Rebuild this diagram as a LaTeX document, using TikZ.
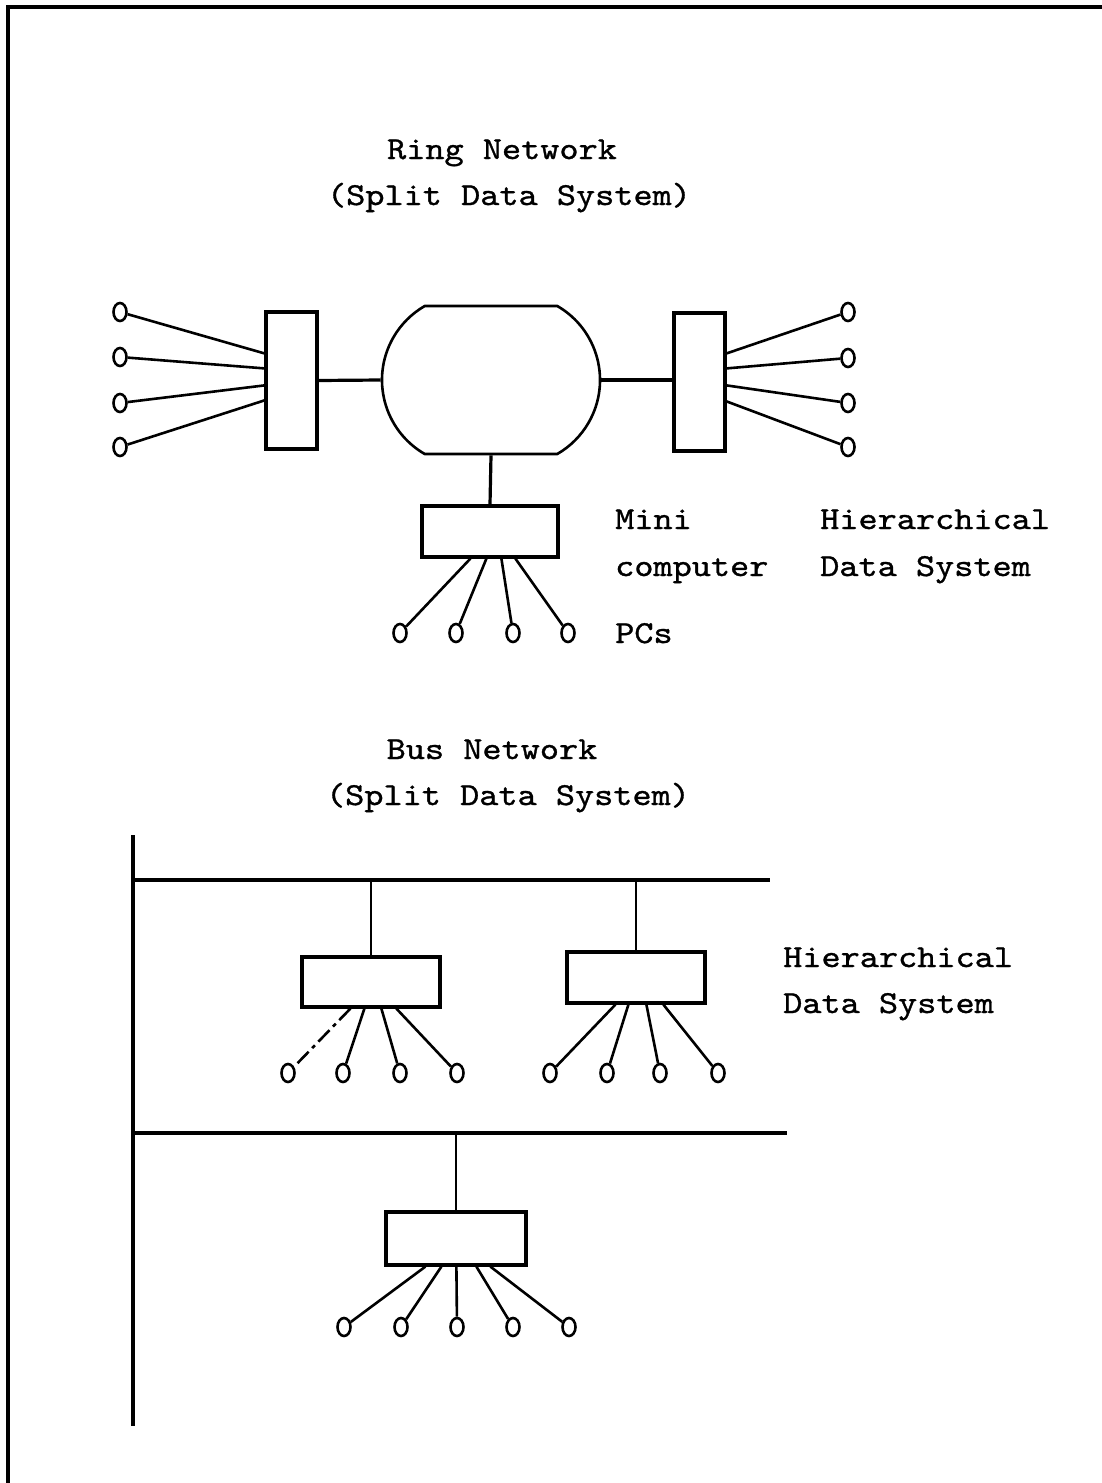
\documentclass[tikz,border=0pt]{standalone}
\usepackage{fontspec}
\newfontfamily\typefont{lmmono10-regular.otf}[FakeStretch=1.14, FakeBold=1.0]
\usetikzlibrary{calc,positioning,shapes.geometric,shapes.misc}

\begin{document}
\begin{tikzpicture}[
  x=1pt, y=-1pt,
  font=\typefont\fontsize{32}{38}\selectfont,
  box/.style={rectangle, draw, line width=3.2pt, inner sep=0pt},
  pc/.style={ellipse, draw, line width=2.6pt, inner sep=0pt, minimum width=13pt, minimum height=18pt},
  link/.style={line width=3.2pt},
  fan/.style={line width=2.6pt},
  lbl/.style={inner sep=0pt, anchor=base west},
  heading/.style={inner sep=0pt, anchor=base}
]
\useasboundingbox (0,0) rectangle (1102,1483);
\draw[link] (8,1483) -- (8,7) -- (1102,7);

% ring network
\node[heading] (ringT) at (502,159) {Ring Network};
\node[heading] (ringS) at (509,205) {(Split Data System)};

\node[rounded rectangle, rounded rectangle arc length=120, draw, line width=2.6pt,
  minimum width=218pt, minimum height=148pt, inner sep=0pt] (ring) at (491,380) {};
\node[box, minimum width=51pt, minimum height=137pt] (lbox) at (291.5,380.5) {};
\node[box, minimum width=51pt, minimum height=138pt] (rbox) at (699.5,382) {};
\node[box, minimum width=136pt, minimum height=51pt] (mini) at (490,531.5) {};

\draw[link] (lbox.east) -- (ring.west);
\draw[link] (ring.east) -- (rbox.west |- ring.east);
\draw[link] (ring.south) -- (mini.north);

\foreach \cy/\dy [count=\i] in {312/43,357/58,403/75,447/90}{
  \node[pc] (l\i) at (120,\cy) {};
  \draw[fan] (l\i) -- ($(lbox.north west)+(0,\dy)$);
}
\foreach \cy/\dy [count=\i] in {312/42,358/57,403/74,447/90}{
  \node[pc] (r\i) at (848,\cy) {};
  \draw[fan] (r\i) -- ($(rbox.north east)+(0,\dy)$);
}
\foreach \cx/\dx [count=\i] in {400/50,456/66,513/81,568/95}{
  \node[pc] (m\i) at (\cx,633) {};
  \draw[fan] (m\i) -- ($(mini.south west)+(\dx,0)$);
}

\node[lbl] (miniA) at (615,529) {Mini};
\node[lbl] (miniB) at (615,576) {computer};
\node[lbl] (pcs) at (615,643) {PCs};
\node[lbl] (hierA) at (820,529) {Hierarchical};
\node[lbl] (hierB) at (820,576) {Data System};

% bus network
\node[heading] (busT) at (492,759) {Bus Network};
\node[heading] (busS) at (508,805) {(Split Data System)};

\coordinate (spineTop) at (133,835);
\coordinate (spineBot) at (133,1426);
\coordinate (busA) at (133,880);
\coordinate (busAend) at (770,880);
\coordinate (busB) at (133,1133);
\coordinate (busBend) at (787,1133);
\draw[link] (spineTop) -- (spineBot);
\draw[link] (busA) -- (busAend);
\draw[link] (busB) -- (busBend);

\node[box, minimum width=138pt, minimum height=50pt] (b1) at (371,982) {};
\node[box, minimum width=138pt, minimum height=51pt] (b2) at (636,977.5) {};
\node[box, minimum width=140pt, minimum height=53pt] (b3) at (456,1238.5) {};

\draw[fan] (b1.north |- busA) -- (b1.north);
\draw[fan] (b2.north |- busA) -- (b2.north);
\draw[fan] (b3.north |- busB) -- (b3.north);

\foreach \cx/\dx [count=\i] in {288/50,343/64,400/81,457/96}{
  \node[pc] (p\i) at (\cx,1073) {};
}
\draw[fan, dash pattern=on 16pt off 5pt on 4pt off 5pt] ($(b1.south west)+(50,0)$) -- (p1);
\foreach \dx [count=\i from 2] in {64,81,96}{
  \draw[fan] (p\i) -- ($(b1.south west)+(\dx,0)$);
}
\foreach \cx/\dx [count=\i] in {550/50,607/63,660/81,718/98}{
  \node[pc] (q\i) at (\cx,1073) {};
  \draw[fan] (q\i) -- ($(b2.south west)+(\dx,0)$);
}
\foreach \cx/\dx [count=\i] in {344/41,401/57,457/72,513/92,569/106}{
  \node[pc] (s\i) at (\cx,1327) {};
  \draw[fan] (s\i) -- ($(b3.south west)+(\dx,0)$);
}

\node[lbl] (hierC) at (783,967) {Hierarchical};
\node[lbl] (hierD) at (783,1013) {Data System};
\end{tikzpicture}
\end{document}
